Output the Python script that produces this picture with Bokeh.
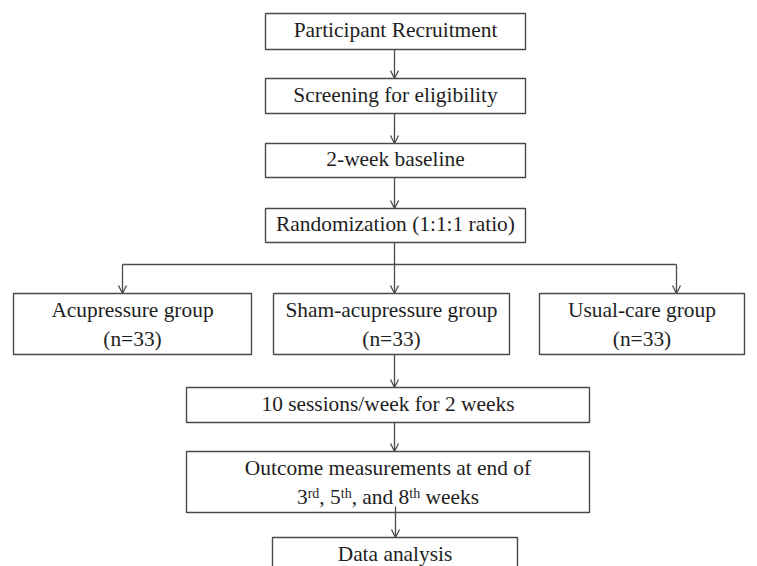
from bokeh.plotting import figure
from bokeh.models import Range1d, Arrow, OpenHead
from bokeh.core.properties import value
from bokeh.embed import file_html
from bokeh.resources import INLINE

# ---- content ----
box_lines = [
    ["Participant Recruitment"],
    ["Screening for eligibility"],
    ["2-week baseline"],
    ["Randomization (1:1:1 ratio)"],
    ["Acupressure group", "(n=33)"],
    ["Sham-acupressure group", "(n=33)"],
    ["Usual-care group", "(n=33)"],
    ["10 sessions/week for 2 weeks"],
    ["Outcome measurements at end of", None],
    ["Data analysis"],
]
# rich line with superscripts: (text, is_superscript)
outcome_line2 = [("3", False), ("rd", True), (", 5", False), ("th", True),
                 (", and 8", False), ("th", True), (" weeks", False)]

# ---- layout (pixel coordinates of the picture) ----
box_left   = [265, 265, 265, 265, 13, 273, 539, 186, 186, 272]
box_right  = [525, 525, 525, 525, 251, 509, 744, 589, 589, 517]
box_top    = [13, 78, 143, 208, 293, 293, 293, 387, 451, 537]
box_bottom = [49, 113, 177, 242, 354, 354, 354, 422, 512, 640]

FONT = "Liberation Serif"
FS = 21.4
SUP_FS = 14
LINE_COLOR = "#4a4a4a"
TEXT_COLOR = "#1e1e1e"

def tshift(fs):
    # svg text sits a bit low; compensate
    return 8.0 * fs / 21.0

W, H = 757, 566
p = figure(width=W, height=H, output_backend="svg", toolbar_location=None,
           x_range=Range1d(0, W), y_range=Range1d(H, 0),
           min_border=0)
p.axis.visible = False
p.grid.visible = False
p.outline_line_color = None
p.background_fill_color = "white"

# boxes
p.quad(left=box_left, right=box_right, top=box_top, bottom=box_bottom,
       fill_color="white", line_color=LINE_COLOR, line_width=1.4)

# texts
xs, ys, ts = [], [], []
for i, lines in enumerate(box_lines):
    cx = (box_left[i] + box_right[i]) / 2
    if i == 9:
        base = 562
        xs.append(cx); ys.append(base - tshift(FS)); ts.append(lines[0])
        continue
    cy = (box_top[i] + box_bottom[i]) / 2
    if len(lines) == 1:
        xs.append(cx); ys.append(cy + 7 - tshift(FS)); ts.append(lines[0])
    else:
        xs.append(cx); ys.append(cy - 6 - tshift(FS)); ts.append(lines[0])
        if lines[1] is not None:
            xs.append(cx); ys.append(cy + 23 - tshift(FS)); ts.append(lines[1])
p.text(x=xs, y=ys, text=ts, text_font=value(FONT), text_font_size=f"{FS}px",
       text_align="center", text_baseline="alphabetic", text_color=TEXT_COLOR)

# superscripted line (Times metrics, 1/1000 em)
widths = {"0": 500, "1": 500, "2": 500, "3": 500, "4": 500, "5": 500, "6": 500,
          "7": 500, "8": 500, "9": 500, ",": 250, " ": 250, "a": 444, "n": 500,
          "d": 500, "r": 333, "t": 278, "h": 500, "w": 722, "e": 444, "k": 500,
          "s": 389}
def seg_w(s, fs):
    return sum(widths.get(c, 500) for c in s) * fs / 1000.0
total = sum(seg_w(t, SUP_FS if sup else FS) for t, sup in outcome_line2)
i6 = 8
cx6 = (box_left[i6] + box_right[i6]) / 2
base6 = (box_top[i6] + box_bottom[i6]) / 2 + 23
x0 = cx6 - total / 2
mx, my, mt, sx, sy, st = [], [], [], [], [], []
for t, sup in outcome_line2:
    fs = SUP_FS if sup else FS
    lead = len(t) - len(t.lstrip(" "))
    xstart = x0 + seg_w(" " * lead, fs)
    if sup:
        sx.append(xstart); sy.append(base6 - 6 - tshift(SUP_FS)); st.append(t.lstrip(" "))
    else:
        mx.append(xstart); my.append(base6 - tshift(FS)); mt.append(t.lstrip(" "))
    x0 += seg_w(t, fs)
p.text(x=mx, y=my, text=mt, text_font=value(FONT), text_font_size=f"{FS}px",
       text_align="left", text_baseline="alphabetic", text_color=TEXT_COLOR)
p.text(x=sx, y=sy, text=st, text_font=value(FONT), text_font_size=f"{SUP_FS}px",
       text_align="left", text_baseline="alphabetic", text_color=TEXT_COLOR)

# connectors
LW = 1.3
def arrow(x, y0, y1):
    p.add_layout(Arrow(x_start=x, y_start=y0, x_end=x, y_end=y1,
                       line_color=LINE_COLOR, line_width=LW,
                       end=OpenHead(size=8, line_color=LINE_COLOR, line_width=LW)))

main_x = (box_left[0] + box_right[0]) / 2 - 1
for a, b in [(0, 1), (1, 2), (2, 3)]:
    arrow(main_x, box_bottom[a], box_top[b])

branch_y = 264
centers_grp = [122, main_x, 676]
p.line(x=[main_x, main_x], y=[box_bottom[3], branch_y], line_color=LINE_COLOR, line_width=LW)
p.line(x=[centers_grp[0], centers_grp[2]], y=[branch_y, branch_y], line_color=LINE_COLOR, line_width=LW)
for cx in centers_grp:
    arrow(cx, branch_y, box_top[4])

arrow(main_x, box_bottom[5], box_top[7])
arrow(main_x, box_bottom[7], box_top[8])
arrow(main_x + 1, box_bottom[8] - 6, box_top[9])

open("out.html", "w").write(file_html(p, INLINE))
